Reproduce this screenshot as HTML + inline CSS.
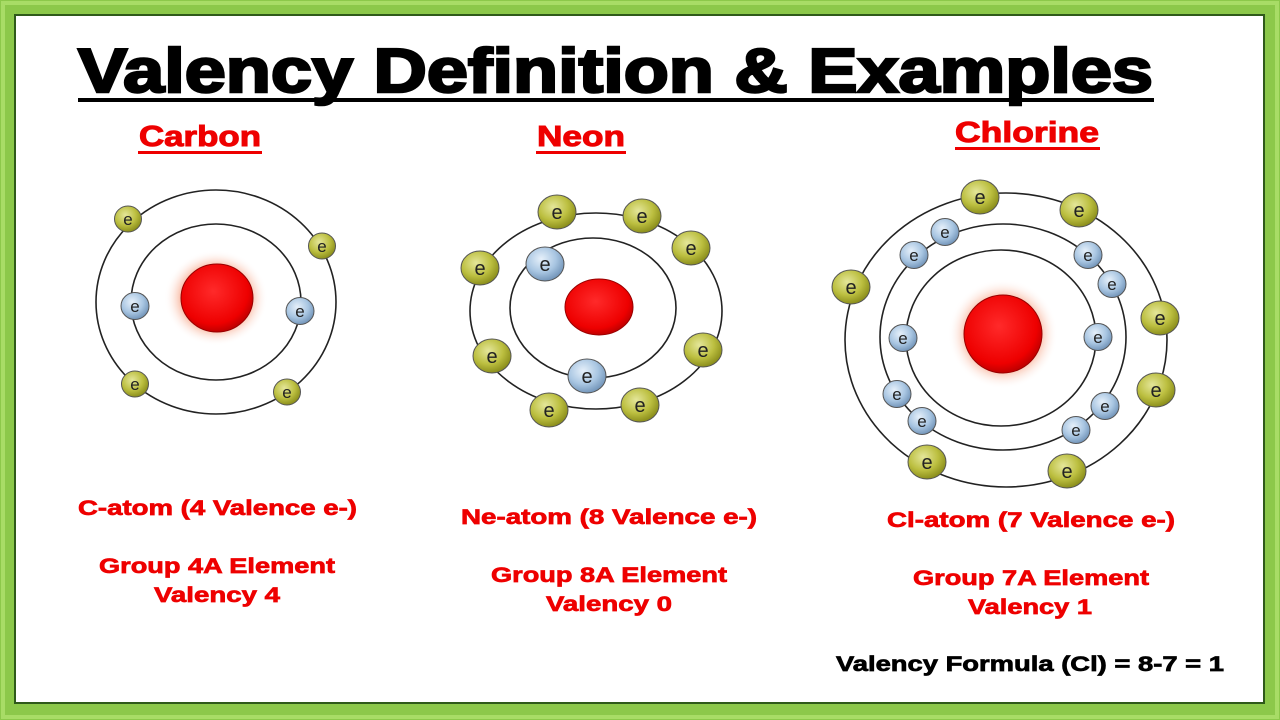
<!DOCTYPE html>
<html><head><meta charset="utf-8"><style>
html,body{margin:0;padding:0;width:1280px;height:720px;overflow:hidden;background:#fff}
svg{display:block}
text{font-family:"Liberation Sans",Arial,sans-serif;font-weight:bold}
</style></head><body>
<svg width="1280" height="720" viewBox="0 0 1280 720" xmlns="http://www.w3.org/2000/svg">
<defs>
<radialGradient id="ol" cx="40%" cy="35%" r="65%"><stop offset="0" stop-color="#e4e69a"/><stop offset="0.6" stop-color="#bcbf40"/><stop offset="1" stop-color="#8c8f1c"/></radialGradient>
<radialGradient id="bl" cx="40%" cy="35%" r="65%"><stop offset="0" stop-color="#e6f0fa"/><stop offset="0.6" stop-color="#a9c6e2"/><stop offset="1" stop-color="#7597bb"/></radialGradient>
<radialGradient id="nu" cx="45%" cy="40%" r="60%"><stop offset="0" stop-color="#ff2a2a"/><stop offset="0.8" stop-color="#ee0000"/><stop offset="1" stop-color="#c00000"/></radialGradient>
<radialGradient id="glow"><stop offset="0.6" stop-color="#f6a080"/><stop offset="1" stop-color="#fff" stop-opacity="0"/></radialGradient>
<g id="eo"><ellipse rx="13.5" ry="13" fill="url(#ol)" stroke="#555" stroke-width="1"/><text y="6" text-anchor="middle" font-size="17" fill="#222" style="font-weight:normal">e</text></g>
<g id="eb"><ellipse rx="14" ry="13.5" fill="url(#bl)" stroke="#555" stroke-width="1"/><text y="6" text-anchor="middle" font-size="17" fill="#222" style="font-weight:normal">e</text></g>
<g id="eo2"><ellipse rx="19" ry="17" fill="url(#ol)" stroke="#555" stroke-width="1"/><text y="7" text-anchor="middle" font-size="20" fill="#222" style="font-weight:normal">e</text></g>
<g id="eb2"><ellipse rx="19" ry="17" fill="url(#bl)" stroke="#555" stroke-width="1"/><text y="7" text-anchor="middle" font-size="20" fill="#222" style="font-weight:normal">e</text></g>
</defs>
<rect x="0" y="0" width="1280" height="720" fill="#8cc84a"/>
<rect x="3" y="3" width="1274" height="714" fill="none" stroke="#a8dc66" stroke-width="4"/>
<rect x="15" y="15" width="1249" height="688" fill="#fff" stroke="#2f5a1a" stroke-width="2"/>

<text x="78" y="92" font-size="62" fill="#000" stroke="#000" stroke-width="2.5" textLength="1075" lengthAdjust="spacingAndGlyphs">Valency Definition &amp; Examples</text>
<rect x="78" y="98" width="1076" height="4" fill="#000"/>

<g font-size="29" fill="#e00" stroke="#e00" stroke-width="1">
<text x="139" y="146" textLength="122" lengthAdjust="spacingAndGlyphs">Carbon</text>
<text x="537" y="146" textLength="88" lengthAdjust="spacingAndGlyphs">Neon</text>
<text x="955" y="142" textLength="144" lengthAdjust="spacingAndGlyphs">Chlorine</text>
</g>
<rect x="138" y="151" width="124" height="3" fill="#e00"/>
<rect x="536" y="151" width="90" height="3" fill="#e00"/>
<rect x="955" y="147" width="145" height="3" fill="#e00"/>

<g fill="none" stroke="#222" stroke-width="1.6">
<ellipse cx="216" cy="302" rx="120" ry="112"/>
<ellipse cx="216" cy="302" rx="85" ry="78"/>
</g>
<ellipse cx="216" cy="298" rx="52" ry="48" fill="url(#glow)"/>
<ellipse cx="217" cy="298" rx="36" ry="34" fill="url(#nu)" stroke="#900" stroke-width="1"/>
<use href="#eo" x="128" y="219"/><use href="#eo" x="322" y="246"/>
<use href="#eo" x="135" y="384"/><use href="#eo" x="287" y="392"/>
<use href="#eb" x="135" y="306"/><use href="#eb" x="300" y="311"/>

<g fill="none" stroke="#222" stroke-width="1.6">
<ellipse cx="596" cy="311" rx="126" ry="98"/>
<ellipse cx="593" cy="308" rx="83" ry="70"/>
</g>
<ellipse cx="599" cy="307" rx="34" ry="28" fill="url(#nu)" stroke="#900" stroke-width="1"/>
<use href="#eo2" x="557" y="212"/><use href="#eo2" x="642" y="216"/>
<use href="#eo2" x="480" y="268"/><use href="#eo2" x="691" y="248"/>
<use href="#eo2" x="492" y="356"/><use href="#eo2" x="703" y="350"/>
<use href="#eo2" x="549" y="410"/><use href="#eo2" x="640" y="405"/>
<use href="#eb2" x="545" y="264"/><use href="#eb2" x="587" y="376"/>

<g fill="none" stroke="#222" stroke-width="1.6">
<ellipse cx="1006" cy="340" rx="161" ry="147"/>
<ellipse cx="1003" cy="337" rx="123" ry="113"/>
<ellipse cx="1001" cy="338" rx="95" ry="88"/>
</g>
<ellipse cx="1003" cy="334" rx="55" ry="55" fill="url(#glow)"/>
<ellipse cx="1003" cy="334" rx="39" ry="39" fill="url(#nu)" stroke="#900" stroke-width="1"/>
<use href="#eo2" x="980" y="197"/><use href="#eo2" x="1079" y="210"/>
<use href="#eo2" x="851" y="287"/><use href="#eo2" x="1160" y="318"/>
<use href="#eo2" x="1156" y="390"/><use href="#eo2" x="927" y="462"/>
<use href="#eo2" x="1067" y="471"/>
<use href="#eb" x="945" y="232"/><use href="#eb" x="914" y="255"/>
<use href="#eb" x="1088" y="255"/><use href="#eb" x="1112" y="284"/>
<use href="#eb" x="903" y="338"/><use href="#eb" x="1098" y="337"/>
<use href="#eb" x="897" y="394"/><use href="#eb" x="922" y="421"/>
<use href="#eb" x="1076" y="430"/><use href="#eb" x="1105" y="406"/>

<g font-size="21" fill="#e00" stroke="#e00" stroke-width="0.7" lengthAdjust="spacingAndGlyphs">
<text x="78" y="515" textLength="279" lengthAdjust="spacingAndGlyphs">C-atom (4 Valence e-)</text>
<text x="99" y="573" textLength="236" lengthAdjust="spacingAndGlyphs">Group 4A Element</text>
<text x="154" y="602" textLength="126" lengthAdjust="spacingAndGlyphs">Valency 4</text>
<text x="461" y="524" textLength="296" lengthAdjust="spacingAndGlyphs">Ne-atom (8 Valence e-)</text>
<text x="491" y="582" textLength="236" lengthAdjust="spacingAndGlyphs">Group 8A Element</text>
<text x="546" y="611" textLength="126" lengthAdjust="spacingAndGlyphs">Valency 0</text>
<text x="887" y="527" textLength="288" lengthAdjust="spacingAndGlyphs">Cl-atom (7 Valence e-)</text>
<text x="913" y="585" textLength="236" lengthAdjust="spacingAndGlyphs">Group 7A Element</text>
<text x="968" y="614" textLength="124" lengthAdjust="spacingAndGlyphs">Valency 1</text>
</g>
<text x="836" y="671" font-size="21" fill="#000" stroke="#000" stroke-width="0.7" textLength="388" lengthAdjust="spacingAndGlyphs">Valency Formula (Cl) = 8-7 = 1</text>
</svg>
</body></html>
